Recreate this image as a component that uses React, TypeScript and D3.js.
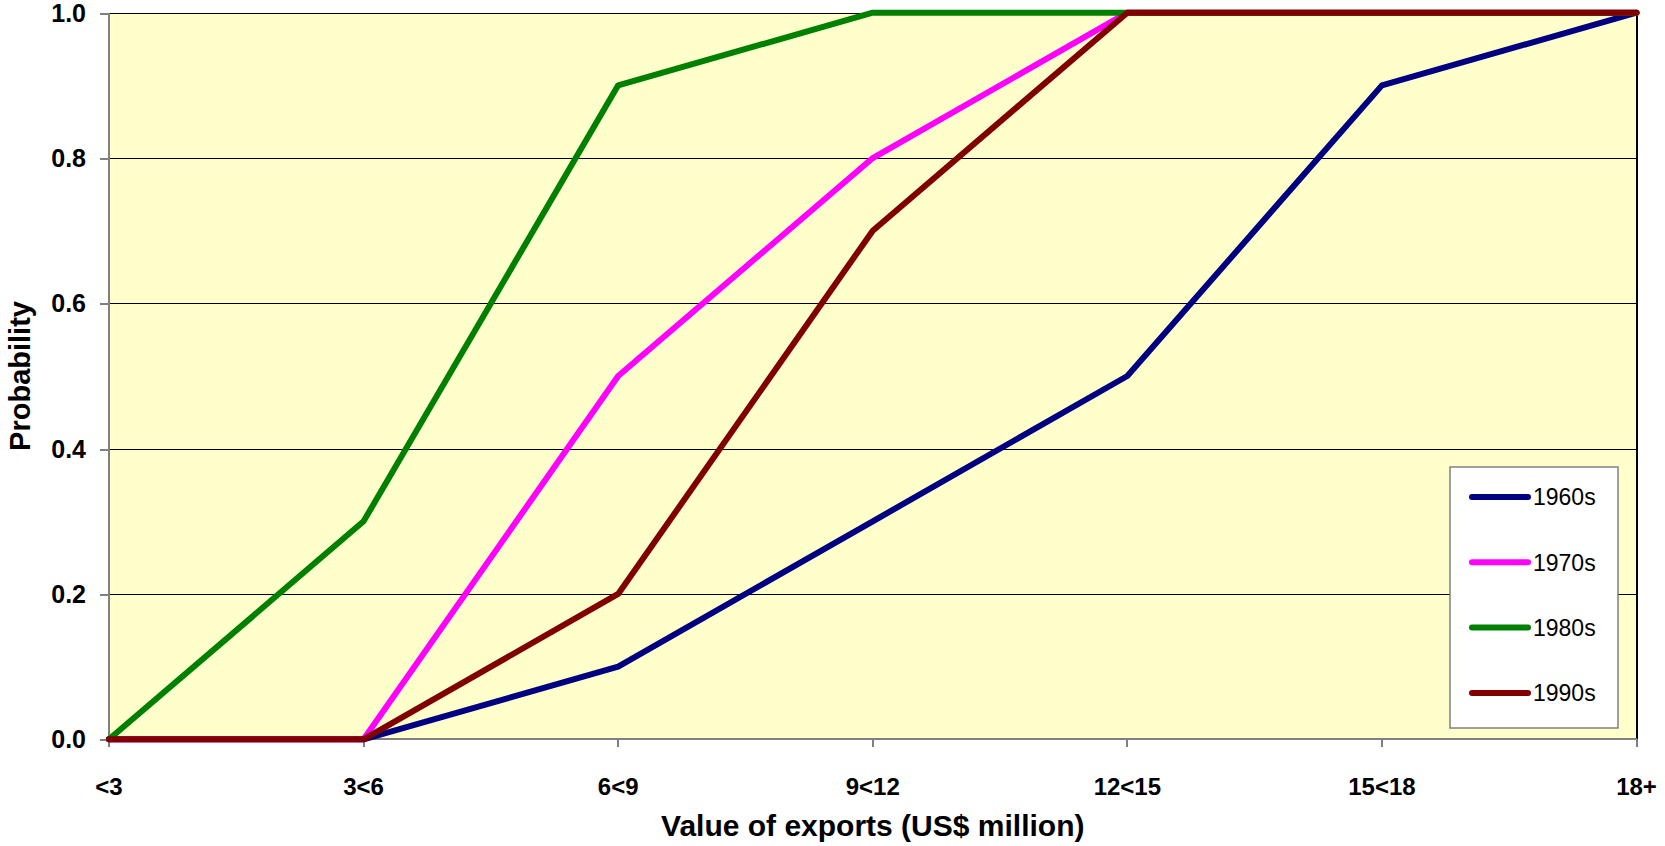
import React from "react";
import * as d3 from "d3";

const categories = ["<3", "3<6", "6<9", "9<12", "12<15", "15<18", "18+"];
const yTicks = [0, 0.2, 0.4, 0.6, 0.8, 1.0];

const s1960 = [0, 0, 0.1, 0.3, 0.5, 0.9, 1.0];
const s1970 = [0, 0, 0.5, 0.8, 1.0, 1.0, 1.0];
const s1980 = [0, 0.3, 0.9, 1.0, 1.0, 1.0, 1.0];
const s1990 = [0, 0, 0.2, 0.7, 1.0, 1.0, 1.0];

const seriesNames = ["1960s", "1970s", "1980s", "1990s"];
const seriesColors = ["#000080", "#FF00FF", "#008000", "#800000"];
const seriesValues = [s1960, s1970, s1980, s1990];

const W = 1665;
const H = 846;
const M = { left: 109, right: 1636.5, top: 12.7, bottom: 739.3 };
const FONT = "Arial, 'Liberation Sans', Helvetica, sans-serif";

export default function App() {
  const x = d3
    .scalePoint<string>()
    .domain(categories)
    .range([M.left, M.right]);
  const y = d3.scaleLinear().domain([0, 1]).range([M.bottom, M.top]);

  const line = d3
    .line<number>()
    .x((_, i) => x(categories[i]) as number)
    .y((d) => y(d));

  const legend = { x: 1450, y: 467, w: 168, h: 261 };
  const snap = (v: number) => Math.round(v) + 0.5;

  return (
    <svg
      width={W}
      height={H}
      style={{ position: "absolute", left: 0, top: 0, background: "#fff" }}
      fontFamily={FONT}
    >
      {/* plot area */}
      <rect
        x={M.left}
        y={M.top}
        width={M.right - M.left}
        height={M.bottom - M.top}
        fill="#FFFFCC"
      />
      {/* horizontal gridlines */}
      {yTicks
        .filter((t) => t > 0)
        .map((t) => (
          <line
            key={t}
            x1={M.left}
            x2={M.right}
            y1={snap(y(t))}
            y2={snap(y(t))}
            stroke="#000"
            strokeWidth={1}
            shapeRendering="crispEdges"
          />
        ))}
      {/* right border */}
      <line
        x1={M.right}
        x2={M.right}
        y1={M.top}
        y2={M.bottom}
        stroke="#000"
        strokeWidth={2}
        shapeRendering="crispEdges"
      />
      {/* axes */}
      <line
        x1={M.left}
        x2={M.left}
        y1={M.top}
        y2={M.bottom}
        stroke="#808080"
        strokeWidth={2}
        shapeRendering="crispEdges"
      />
      <line
        x1={M.left}
        x2={M.right}
        y1={M.bottom}
        y2={M.bottom}
        stroke="#808080"
        strokeWidth={2}
        shapeRendering="crispEdges"
      />
      {yTicks.map((t) => (
        <g key={t}>
          <line
            x1={M.left - 9}
            x2={M.left}
            y1={snap(y(t))}
            y2={snap(y(t))}
            stroke="#808080"
            strokeWidth={2}
            shapeRendering="crispEdges"
          />
          <text
            x={86}
            y={y(t)}
            dy="0.36em"
            textAnchor="end"
            fontSize={25}
            fontWeight="bold"
            fill="#000"
          >
            {t.toFixed(1)}
          </text>
        </g>
      ))}
      {categories.map((c) => (
        <g key={c}>
          <line
            x1={x(c)}
            x2={x(c)}
            y1={M.bottom}
            y2={M.bottom + 8}
            stroke="#808080"
            strokeWidth={2}
            shapeRendering="crispEdges"
          />
          <text
            x={x(c)}
            y={795}
            textAnchor="middle"
            fontSize={24}
            fontWeight="bold"
            fill="#000"
          >
            {c}
          </text>
        </g>
      ))}
      {/* series */}
      {seriesValues.map((vals, i) => (
        <path
          key={seriesNames[i]}
          d={line(vals) || ""}
          fill="none"
          stroke={seriesColors[i]}
          strokeWidth={6}
          strokeLinecap="round"
          strokeLinejoin="round"
        />
      ))}
      {/* axis titles */}
      <text
        x={(M.left + M.right) / 2}
        y={836}
        textAnchor="middle"
        fontSize={30}
        fontWeight="bold"
        fill="#000"
      >
        Value of exports (US$ million)
      </text>
      <text
        transform={`translate(30, ${(M.top + M.bottom) / 2}) rotate(-90)`}
        textAnchor="middle"
        fontSize={29}
        fontWeight="bold"
        fill="#000"
      >
        Probability
      </text>
      {/* legend */}
      <rect
        x={legend.x}
        y={legend.y}
        width={legend.w}
        height={legend.h}
        fill="#fff"
        stroke="#808080"
        strokeWidth={1.5}
      />
      {seriesNames.map((n, i) => {
        const ly = 497 + i * 65.3;
        return (
          <g key={n}>
            <line
              x1={1472}
              x2={1528}
              y1={ly}
              y2={ly}
              stroke={seriesColors[i]}
              strokeWidth={6}
              strokeLinecap="round"
            />
            <text x={1533} y={ly} dy="0.36em" fontSize={23} fill="#000">
              {n}
            </text>
          </g>
        );
      })}
    </svg>
  );
}
